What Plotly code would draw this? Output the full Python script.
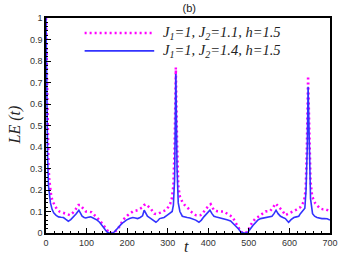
import plotly.graph_objects as go

# J1=1, J2=1.1, h=1.5 (magenta dotted)
t_a = [0, 2, 4, 6, 8, 10, 13, 17, 22, 27, 33, 40, 47, 53, 59, 65, 72, 77, 80, 84, 88, 93, 98, 103, 108,
       112, 116, 122, 128, 133, 137, 143, 149, 155, 160, 166, 171, 176, 181, 187, 193, 200, 206, 214, 220,
       226, 232, 238, 242, 246, 252, 258, 263, 267, 272, 277, 282, 287, 295, 301, 306, 310, 314, 317, 320,
       323, 326, 330, 336, 342, 348, 353, 357, 363, 369, 375, 381, 385, 389, 395, 400, 406, 410, 414, 420,
       426, 432, 438, 443, 447, 453, 459, 463, 467, 471, 475, 480, 485, 492, 498, 504, 510, 516, 523, 529,
       535, 541, 547, 553, 560, 566, 572, 578, 584, 590, 596, 602, 608, 615, 621, 627, 632, 636, 640, 643,
       646, 649, 652, 656, 660, 664, 670, 676, 683, 689, 695, 700]
le_a = [1.0, 0.7, 0.45, 0.32, 0.25, 0.2, 0.17, 0.145, 0.125, 0.11, 0.1, 0.095, 0.09, 0.085, 0.083, 0.092,
        0.106, 0.122, 0.13, 0.13, 0.12, 0.11, 0.1, 0.1, 0.1, 0.097, 0.09, 0.08, 0.067, 0.057, 0.047, 0.03,
        0.0125, 0.003, 0.0, 0.0, 0.008, 0.018, 0.03, 0.05, 0.067, 0.08, 0.09, 0.1, 0.103, 0.106, 0.113, 0.12,
        0.13, 0.134, 0.124, 0.114, 0.1, 0.09, 0.088, 0.09, 0.095, 0.1, 0.106, 0.12, 0.135, 0.16, 0.22, 0.4,
        0.77, 0.42, 0.22, 0.17, 0.145, 0.13, 0.12, 0.11, 0.1, 0.09, 0.083, 0.082, 0.083, 0.09, 0.1, 0.113,
        0.125, 0.134, 0.12, 0.106, 0.102, 0.1, 0.1, 0.1, 0.095, 0.09, 0.083, 0.075, 0.063, 0.05, 0.035, 0.02,
        0.007, 0.0, 0.0, 0.01, 0.036, 0.053, 0.067, 0.075, 0.083, 0.092, 0.1, 0.102, 0.103, 0.12, 0.137,
        0.125, 0.114, 0.1, 0.083, 0.088, 0.094, 0.1, 0.106, 0.113, 0.12, 0.135, 0.15, 0.2, 0.4, 0.73, 0.4,
        0.24, 0.17, 0.15, 0.137, 0.125, 0.114, 0.11, 0.11, 0.105, 0.1]

# J1=1, J2=1.4, h=1.5 (blue solid)
t_b = [0, 2, 4, 6, 8, 11, 15, 19, 25, 31, 37, 43, 49, 55, 61, 67, 74, 81, 85, 89, 94, 98, 104, 110, 115,
       120, 126, 132, 137, 141, 146, 150, 155, 160, 165, 170, 175, 180, 185, 191, 198, 206, 214, 220, 226,
       232, 238, 242, 246, 250, 256, 263, 271, 276, 280, 286, 291, 299, 305, 311, 314, 317, 320, 323, 326,
       330, 336, 342, 348, 355, 361, 369, 377, 383, 389, 396, 404, 409, 414, 420, 426, 432, 438, 446, 455,
       461, 467, 474, 480, 488, 496, 500, 504, 510, 516, 522, 529, 537, 545, 551, 557, 562, 567, 572, 578,
       584, 590, 594, 598, 604, 611, 617, 623, 627, 631, 635, 638, 641, 644, 646, 649, 652, 657, 662, 668,
       674, 680, 686, 693, 700]
le_b = [1.0, 0.6, 0.35, 0.22, 0.17, 0.14, 0.11, 0.094, 0.082, 0.075, 0.073, 0.072, 0.063, 0.055, 0.062,
        0.072, 0.088, 0.106, 0.09, 0.078, 0.072, 0.07, 0.073, 0.075, 0.071, 0.067, 0.06, 0.05, 0.04, 0.028,
        0.015, 0.005, 0.001, 0.0, 0.0, 0.008, 0.02, 0.03, 0.04, 0.05, 0.06, 0.067, 0.072, 0.07, 0.067, 0.072,
        0.08, 0.106, 0.09, 0.078, 0.07, 0.062, 0.05, 0.058, 0.067, 0.07, 0.072, 0.083, 0.09, 0.1, 0.13, 0.25,
        0.74, 0.3, 0.14, 0.1, 0.078, 0.074, 0.072, 0.07, 0.067, 0.06, 0.05, 0.06, 0.075, 0.09, 0.106, 0.09,
        0.078, 0.074, 0.072, 0.07, 0.067, 0.062, 0.056, 0.046, 0.036, 0.02, 0.005, 0.0, 0.0, 0.008, 0.02,
        0.035, 0.05, 0.06, 0.067, 0.07, 0.072, 0.075, 0.078, 0.09, 0.106, 0.09, 0.078, 0.072, 0.067, 0.058,
        0.05, 0.062, 0.072, 0.075, 0.078, 0.09, 0.1, 0.11, 0.115, 0.2, 0.4, 0.68, 0.35, 0.16, 0.09, 0.078,
        0.072, 0.068, 0.067, 0.067, 0.066, 0.06]

labels = ["J<sub>1</sub>=1, J<sub>2</sub>=1.1, h=1.5", "J<sub>1</sub>=1, J<sub>2</sub>=1.4, h=1.5"]
x_ticks = [0, 100, 200, 300, 400, 500, 600, 700]
y_ticks = [0, 0.1, 0.2, 0.3, 0.4, 0.5, 0.6, 0.7, 0.8, 0.9, 1]
y_tick_text = ["0", "0.1", "0.2", "0.3", "0.4", "0.5", "0.6", "0.7", "0.8", "0.9", "1"]

MAG = "#ff00ff"
BLUE = "#3333ff"
MAG_DASH = "2px,3px"

fig = go.Figure()
fig.add_trace(go.Scatter(x=t_a, y=le_a, mode="lines", name=labels[0],
                         line=dict(color=MAG, width=2.5, dash=MAG_DASH), showlegend=False))
fig.add_trace(go.Scatter(x=t_b, y=le_b, mode="lines", name=labels[1],
                         line=dict(color=BLUE, width=1.6), showlegend=False))

serif = "Liberation Serif"
# manual legend (long line samples as in the reference)
leg_y = [0.93, 0.847]
for i, (lab, col, dash, w) in enumerate([(labels[0], MAG, MAG_DASH, 2.5), (labels[1], BLUE, "solid", 1.6)]):
    fig.add_shape(type="line", xref="paper", yref="paper", x0=0.136, x1=0.381, y0=leg_y[i], y1=leg_y[i],
                  line=dict(color=col, width=w, dash=dash))
    fig.add_annotation(xref="paper", yref="paper", x=0.405, y=leg_y[i], xanchor="left", yanchor="middle",
                       text="<i>" + lab + "</i>", showarrow=False,
                       font=dict(family=serif, size=14.5, color="#222"))

# axis titles
fig.add_annotation(xref="paper", yref="paper", x=0.493, y=-0.065, xanchor="center", yanchor="middle",
                   text="<i>t</i>", showarrow=False, font=dict(family=serif, size=16, color="#222"))
fig.add_annotation(xref="paper", yref="paper", x=-0.108, y=0.502, xanchor="center", yanchor="middle",
                   text="<i>LE (t)</i>", textangle=-90, showarrow=False,
                   font=dict(family=serif, size=16, color="#222"))

fig.update_layout(
    width=338, height=259,
    margin=dict(l=46, r=8, t=18, b=26, autoexpand=False),
    paper_bgcolor="white", plot_bgcolor="white",
    title=dict(text="(b)", x=0.56, xanchor="center", y=0.985, yanchor="top",
               font=dict(family="Liberation Sans", size=11, color="#222")),
    font=dict(family="Liberation Sans", size=9, color="#333"),
)
fig.update_xaxes(range=[0, 700], tickvals=x_ticks, ticks="inside", ticklen=5, tickwidth=1,
                 tickcolor="black", showline=True, linecolor="black", linewidth=1.5, mirror=True,
                 showgrid=False, zeroline=False, automargin=False, ticklabeloverflow="allow",
                 minor=dict(dtick=20, ticks="inside", ticklen=2.5, tickcolor="black"))
fig.update_yaxes(range=[0, 1], tickvals=y_ticks, ticktext=y_tick_text, ticks="inside", ticklen=5,
                 tickwidth=1, tickcolor="black", showline=True, linecolor="black", linewidth=1.5,
                 mirror=True, showgrid=False, zeroline=False, automargin=False, ticklabeloverflow="allow",
                 minor=dict(dtick=0.02, ticks="inside", ticklen=2.5, tickcolor="black"))

fig.write_html("out.html", config={"displayModeBar": False},
               post_script="document.body.style.margin='0';document.body.style.overflow='hidden';")
